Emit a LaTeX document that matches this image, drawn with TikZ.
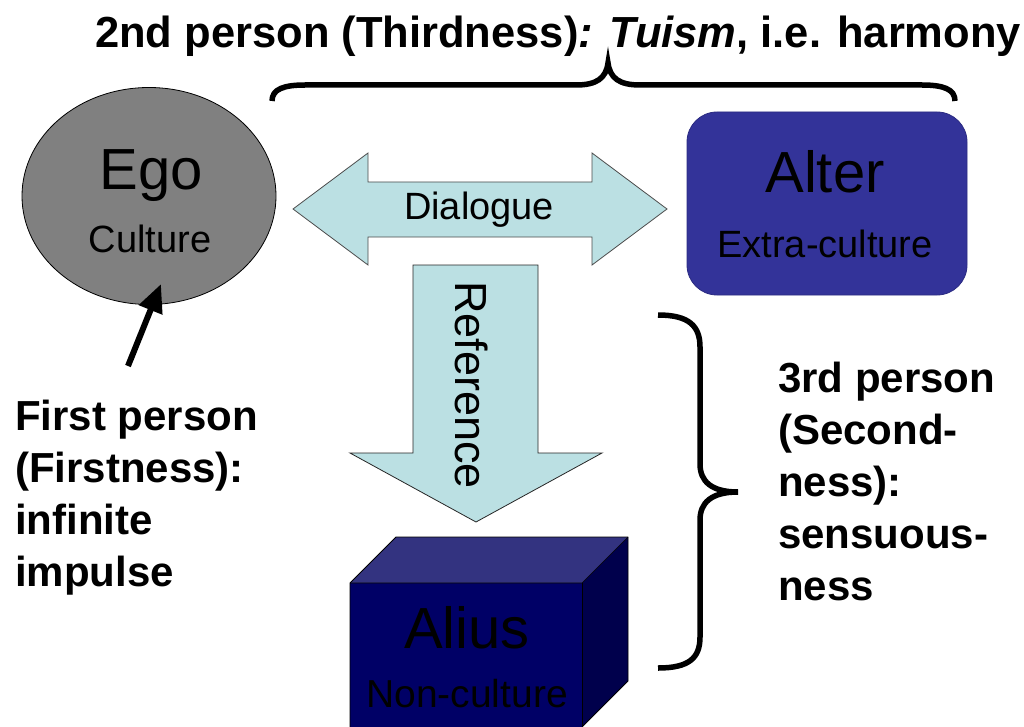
\documentclass[tikz,border=0pt]{standalone}
\usepackage{fontspec}
\setmainfont{Liberation Sans}
\usetikzlibrary{arrows.meta,shapes.geometric}
\definecolor{egogray}{HTML}{808080}
\definecolor{altercol}{HTML}{333399}
\definecolor{cubefront}{HTML}{000066}
\definecolor{cubetop}{HTML}{333380}
\definecolor{cubeside}{HTML}{00004C}
\definecolor{arrowfill}{HTML}{BBE0E3}
\tikzset{
  bigtxt/.style={font=\fontsize{58}{58}\selectfont, anchor=base, inner sep=0pt, text=black},
  smalltxt/.style={font=\fontsize{38}{38}\selectfont, anchor=base, inner sep=0pt, text=black},
  labeltxt/.style={font=\bfseries\fontsize{42}{52}\selectfont, anchor=north west, align=left, inner sep=0pt},
  brace/.style={line width=5.5pt},
  blockarrow/.style={fill=arrowfill, draw=black!70, line width=0.8pt, line join=miter},
  pointer/.style={line width=6pt, -{Triangle[length=28pt,width=24pt]}},
}
\begin{document}
\begin{tikzpicture}[x=1pt,y=-1pt]
\useasboundingbox (0,0) rectangle (1024,727);

% title
\node[font=\bfseries\fontsize{43.5}{43.5}\selectfont, anchor=base west, inner sep=0pt] (title) at (95,48)
  {2nd person (Thirdness)\textit{: Tuism}, i.e. harmony};

% top brace
\draw[brace] (272,101) .. controls (272,89) and (284,85) .. (305,85) -- (576,85)
  .. controls (597,85) and (606,78) .. (608,63)
  .. controls (610,78) and (619,85) .. (640,85) -- (922,85)
  .. controls (943,85) and (955,89) .. (955,101);

% Ego
\node[ellipse, draw=black, line width=0.8pt, fill=egogray, minimum width=254pt, minimum height=217pt, inner sep=0pt] (ego) at (149,196) {};
\node[bigtxt] (egot) at (151,190) {Ego};
\node[smalltxt] (egoc) at (150,252) {Culture};

% pointer to Ego
\coordinate (ptail) at (128,366);
\coordinate (ptip) at (161,284);
\draw[pointer] (ptail) -- (ptip);

% Alter
\node[rounded corners=30pt, draw=altercol!85!black, line width=0.8pt, fill=altercol, minimum width=280pt, minimum height=183pt, inner sep=0pt] (alter) at (827,203.5) {};
\node[bigtxt] (altert) at (825,193) {Alter};
\node[smalltxt] (alterc) at (825,257) {Extra-culture};

% Dialogue double arrow
\draw[blockarrow] (293,209) -- (368,153) -- (368,182) -- (592,182) -- (592,153) -- (667,209)
  -- (592,265) -- (592,237) -- (368,237) -- (368,265) -- cycle;
\node[smalltxt] (dialogue) at (479,220) {Dialogue};

% Reference down arrow
\draw[blockarrow, draw=black!85] (413,265) -- (538,265) -- (538,453) -- (602,453) -- (476,522)
  -- (350,453) -- (413,453) -- cycle;
\node[font=\fontsize{45}{45}\selectfont, rotate=-90, inner sep=0pt] (reference) at (472,385) {Reference};

% Alius cube
\begin{scope}
\clip (0,0) rectangle (1024,727);
\fill[cubefront] (350,583) rectangle (582,740);
\fill[cubetop] (350,583) -- (396,537) -- (628,537) -- (582,583) -- cycle;
\fill[cubeside] (582,583) -- (628,537) -- (628,681) -- (582,727) -- (582,740) -- cycle;
\draw[black, line width=0.8pt, line join=round] (350,740) -- (350,583) -- (396,537) -- (628,537) -- (628,681) -- (582,727);
\draw[black, line width=0.6pt] (350,583) -- (582,583) -- (628,537);
\draw[black, line width=0.6pt] (582,583) -- (582,740);
\end{scope}
\node[bigtxt] (aliust) at (467,648) {Alius};
\node[smalltxt, font=\fontsize{39}{39}\selectfont] (aliusc) at (467,707) {Non-culture};

% right brace
\draw[brace] (658,315) .. controls (689,315) and (700,326) .. (700,347) -- (700,464)
  .. controls (700,481) and (711,492) .. (738,492)
  .. controls (711,492) and (700,503) .. (700,520) -- (700,637)
  .. controls (700,658) and (689,668) .. (658,668);

% side labels
\node[labeltxt] (first) at (15,400) {First person\\(Firstness):\\infinite\\impulse};
\node[labeltxt] (third) at (778,362) {3rd person\\(Second-\\ness):\\sensuous-\\ness};
\end{tikzpicture}
\end{document}
